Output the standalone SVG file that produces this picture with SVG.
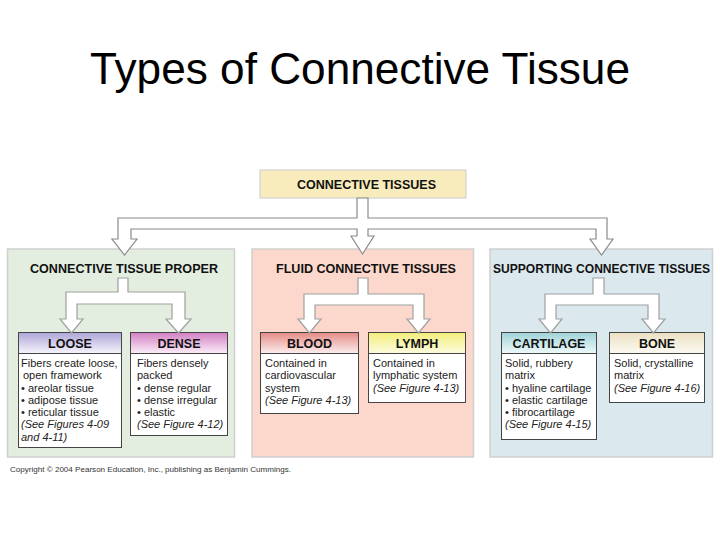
<svg xmlns="http://www.w3.org/2000/svg" width="720" height="540" viewBox="0 0 720 540">
<defs>
<style>
text{font-family:"Liberation Sans",Arial,Helvetica,sans-serif;fill:#111}
.title{font-size:44px;fill:#000}
.h{font-size:12.5px;font-weight:bold;text-anchor:middle}
.ch{font-size:12.5px;font-weight:bold;text-anchor:middle}
.b{font-size:11px;fill:#222}
.i{font-style:italic}
.panel{stroke:#cfcfcf;stroke-width:1.5}
.box{fill:#fff;stroke:#444;stroke-width:1}
.hd{stroke:#444;stroke-width:1}
.arr{fill:#fff;stroke:#8a8a8a;stroke-width:1.2;stroke-linejoin:miter}
.arr2{fill:#fff;stroke:#a0a0a0;stroke-width:1.2}
.copy{font-size:8px;fill:#333}
</style>
<linearGradient id="gLoose" x1="0" y1="0" x2="0" y2="1"><stop offset="0" stop-color="#aea5d8"/><stop offset="1" stop-color="#f7f5fc"/></linearGradient>
<linearGradient id="gDense" x1="0" y1="0" x2="0" y2="1"><stop offset="0" stop-color="#d27fc3"/><stop offset="1" stop-color="#fbeef8"/></linearGradient>
<linearGradient id="gBlood" x1="0" y1="0" x2="0" y2="1"><stop offset="0" stop-color="#e48a86"/><stop offset="1" stop-color="#fcefee"/></linearGradient>
<linearGradient id="gLymph" x1="0" y1="0" x2="0" y2="1"><stop offset="0" stop-color="#f3ee7a"/><stop offset="1" stop-color="#fdfbe0"/></linearGradient>
<linearGradient id="gCart" x1="0" y1="0" x2="0" y2="1"><stop offset="0" stop-color="#9fd3d8"/><stop offset="1" stop-color="#f0f9fa"/></linearGradient>
<linearGradient id="gBone" x1="0" y1="0" x2="0" y2="1"><stop offset="0" stop-color="#ebe0c2"/><stop offset="1" stop-color="#fcfaf3"/></linearGradient>
</defs>
<rect width="720" height="540" fill="#fff"/>
<text class="title" x="90" y="84" textLength="540" lengthAdjust="spacingAndGlyphs">Types of Connective Tissue</text>

<g id="panel-proper">
<rect class="panel" x="7.5" y="249" width="227" height="208" fill="#e3eee1"/>
<text class="h" x="124" y="273" textLength="188" lengthAdjust="spacingAndGlyphs">CONNECTIVE TISSUE PROPER</text>
</g>
<g id="panel-fluid">
<rect class="panel" x="252" y="249" width="221.5" height="208" fill="#fbd8cb"/>
<text class="h" x="366" y="273" textLength="180" lengthAdjust="spacingAndGlyphs">FLUID CONNECTIVE TISSUES</text>
</g>
<g id="panel-supporting">
<rect class="panel" x="490" y="249" width="222.5" height="208" fill="#dbe8ee"/>
<text class="h" x="601.5" y="273" textLength="217" lengthAdjust="spacingAndGlyphs">SUPPORTING CONNECTIVE TISSUES</text>
</g>

<g id="node-root">
<rect x="260" y="170" width="206" height="28" fill="#f9ecbc" stroke="#d2d2d2" stroke-width="1.2"/>
<text class="h" x="366.5" y="189" textLength="139" lengthAdjust="spacingAndGlyphs">CONNECTIVE TISSUES</text>
</g>

<g id="node-loose">
<rect class="box" x="18.5" y="332.5" width="103" height="115"/>
<rect class="hd" x="18.5" y="332.5" width="103" height="21" fill="url(#gLoose)"/>
<text class="ch" x="70" y="348">LOOSE</text>
<text class="b" x="21" y="367">Fibers create loose,</text>
<text class="b" x="23" y="379">open framework</text>
<text class="b" x="21" y="391.5">• areolar tissue</text>
<text class="b" x="21" y="403.5">• adipose tissue</text>
<text class="b" x="21" y="416">• reticular tissue</text>
<text class="b i" x="21" y="428">(See Figures 4-09</text>
<text class="b i" x="21" y="440.5">and 4-11)</text>
</g>
<g id="node-dense">
<rect class="box" x="130.5" y="332.5" width="97" height="103"/>
<rect class="hd" x="130.5" y="332.5" width="97" height="21" fill="url(#gDense)"/>
<text class="ch" x="179" y="348">DENSE</text>
<text class="b" x="137" y="367">Fibers densely</text>
<text class="b" x="137" y="379">packed</text>
<text class="b" x="137" y="391.5">• dense regular</text>
<text class="b" x="137" y="403.5">• dense irregular</text>
<text class="b" x="137" y="416">• elastic</text>
<text class="b i" x="137" y="428">(See Figure 4-12)</text>
</g>
<g id="node-blood">
<rect class="box" x="260.5" y="332.5" width="98" height="81"/>
<rect class="hd" x="260.5" y="332.5" width="98" height="21" fill="url(#gBlood)"/>
<text class="ch" x="309.5" y="348">BLOOD</text>
<text class="b" x="265" y="367">Contained in</text>
<text class="b" x="265" y="379">cardiovascular</text>
<text class="b" x="265" y="391.5">system</text>
<text class="b i" x="265" y="403.5">(See Figure 4-13)</text>
</g>
<g id="node-lymph">
<rect class="box" x="368.5" y="332.5" width="97" height="70"/>
<rect class="hd" x="368.5" y="332.5" width="97" height="21" fill="url(#gLymph)"/>
<text class="ch" x="417" y="348">LYMPH</text>
<text class="b" x="373" y="367">Contained in</text>
<text class="b" x="373" y="379">lymphatic system</text>
<text class="b i" x="373" y="391.5">(See Figure 4-13)</text>
</g>
<g id="node-cartilage">
<rect class="box" x="501.5" y="332.5" width="95" height="107"/>
<rect class="hd" x="501.5" y="332.5" width="95" height="21" fill="url(#gCart)"/>
<text class="ch" x="549" y="348">CARTILAGE</text>
<text class="b" x="505" y="367">Solid, rubbery</text>
<text class="b" x="505" y="379">matrix</text>
<text class="b" x="505" y="391.5">• hyaline cartilage</text>
<text class="b" x="505" y="403.5">• elastic cartilage</text>
<text class="b" x="505" y="416">• fibrocartilage</text>
<text class="b i" x="505" y="428">(See Figure 4-15)</text>
</g>
<g id="node-bone">
<rect class="box" x="609.5" y="332.5" width="95" height="70"/>
<rect class="hd" x="609.5" y="332.5" width="95" height="21" fill="url(#gBone)"/>
<text class="ch" x="657" y="348">BONE</text>
<text class="b" x="614" y="367">Solid, crystalline</text>
<text class="b" x="614" y="379">matrix</text>
<text class="b i" x="614" y="391.5">(See Figure 4-16)</text>
</g>

<g id="connectors">
<path class="arr" d="M357,198 L357,218 L118,218 L118,239 L112,239 L124.5,255 L137,239 L131,239 L131,229 L357,229 L357,236 L351,236 L362.5,254 L374,236 L368,236 L368,229 L596,229 L596,239 L590,239 L601.5,255 L613,239 L607,239 L607,218 L368,218 L368,198 Z"/>
<path class="arr2" d="M118,278 L118,292 L66,292 L66,319 L60,319 L71.5,333 L83,319 L77,319 L77,304 L172,304 L172,319 L166,319 L178.5,333 L191,319 L185,319 L185,292 L128,292 L128,278 Z"/>
<path class="arr2" d="M358,278 L358,294 L304,294 L304,319 L298,319 L309.5,333 L321,319 L315,319 L315,305 L413,305 L413,319 L407,319 L418.5,333 L430,319 L424,319 L424,294 L368,294 L368,278 Z"/>
<path class="arr2" d="M593,278 L593,294 L545,294 L545,319 L539,319 L550.5,333 L562,319 L556,319 L556,305 L648,305 L648,319 L642,319 L653.5,333 L665,319 L659,319 L659,294 L604,294 L604,278 Z"/>
</g>

<text class="copy" x="10" y="472" textLength="281" lengthAdjust="spacingAndGlyphs">Copyright © 2004 Pearson Education, Inc., publishing as Benjamin Cummings.</text>
</svg>
